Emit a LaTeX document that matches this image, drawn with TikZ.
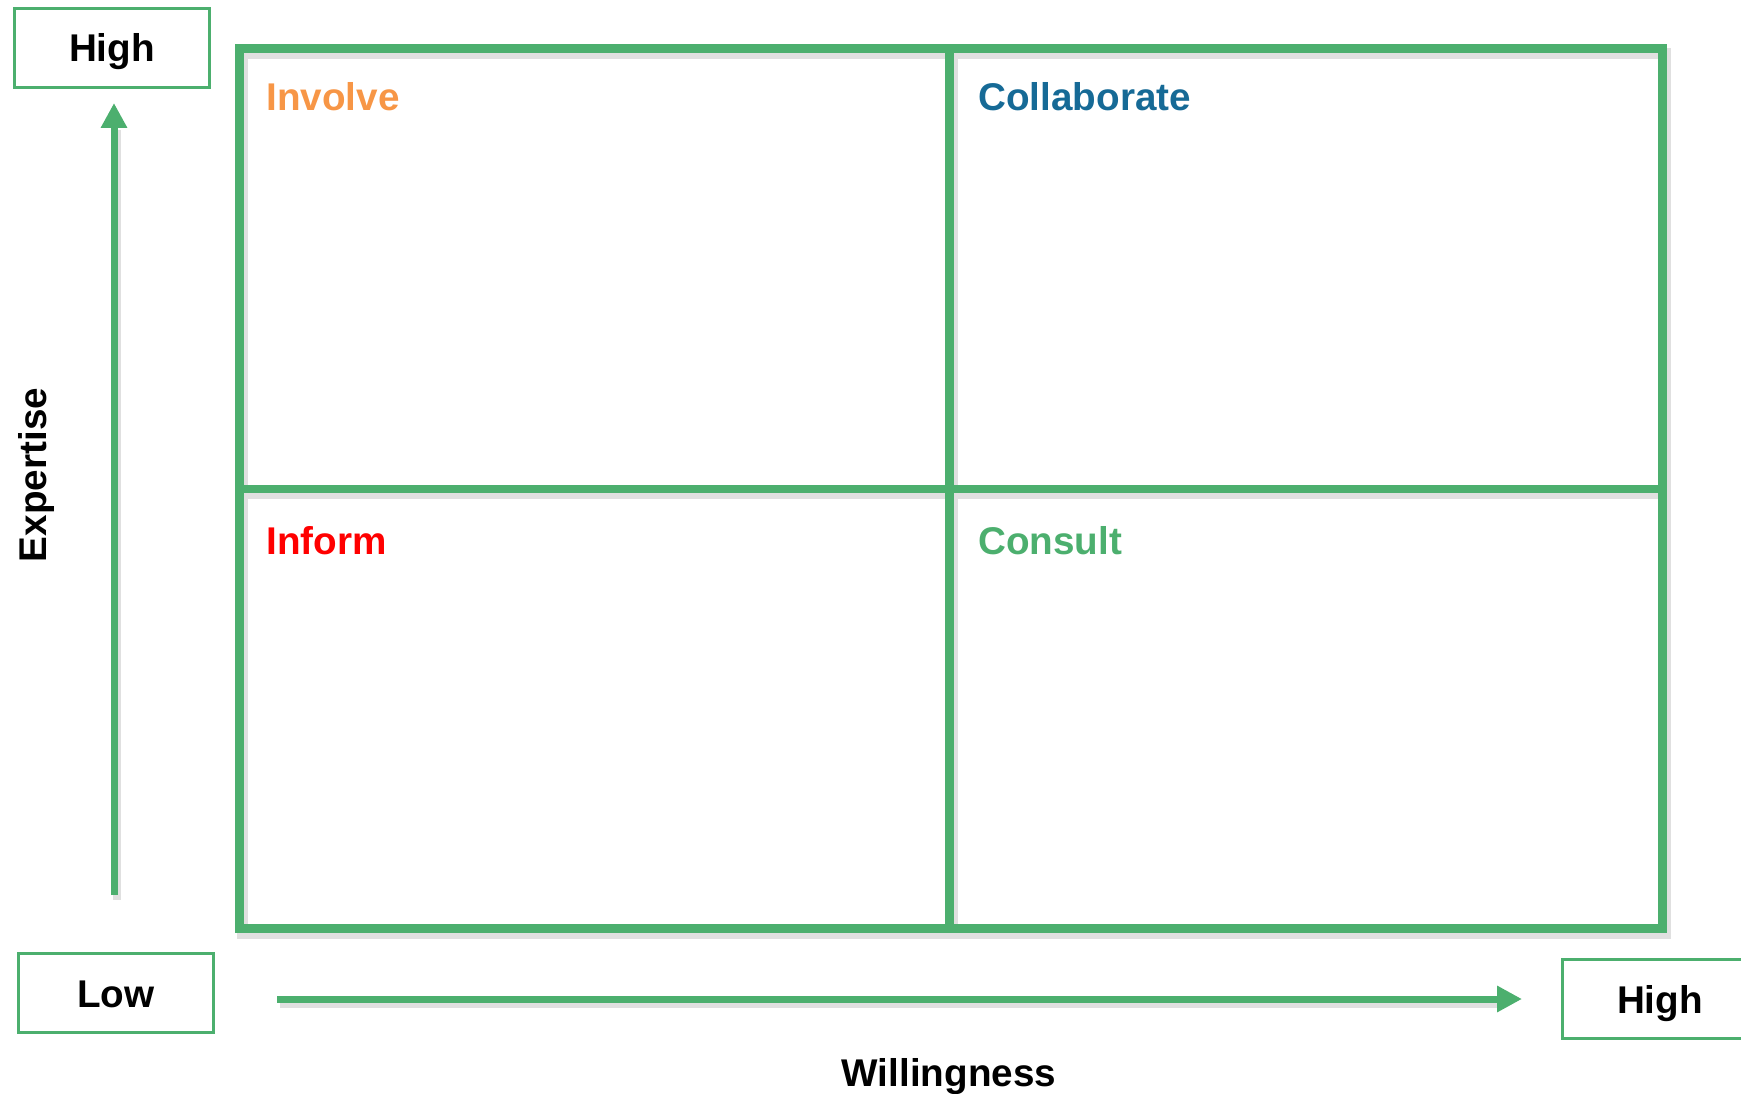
\documentclass[tikz,border=0pt]{standalone}
\usepackage{fontspec}
\setmainfont{Liberation Sans}
\usetikzlibrary{arrows.meta}
\definecolor{matgreen}{RGB}{76,175,110}
\definecolor{involvecol}{RGB}{247,150,70}
\definecolor{collabcol}{RGB}{22,106,150}
\definecolor{informcol}{RGB}{255,0,0}

\begin{document}
\begin{tikzpicture}[
        x=0.02cm, y=-0.02cm,% one unit = one pixel of the reference, y going down
        font=\fontsize{22}{26}\selectfont\bfseries,
        G/.style = {draw=matgreen, line width=0.18cm},% lines of the grid
        S/.style = {draw=black!12, line width=0.22cm, shift={(3,5)}},% shadow under the lines
        L/.style = {rectangle, draw=matgreen, line width=0.06cm,
                minimum width=3.9cm, minimum height=1.6cm,
                text height=0.56cm, text depth=0pt,
                inner sep=0pt, outer sep=0pt},% level boxes
        A/.style = {draw=matgreen, line width=0.14cm,
                -{Triangle[width=0.5cm, length=0.5cm]}},
        Q/.style = {anchor=west, inner sep=0pt, text=#1},% quadrant titles
    ]
    \useasboundingbox (0,0) rectangle (1741,1094);
    % shadows
    \draw[S] (239,49) rectangle (1662,928);
    \draw[S] (949,49) -- (949,928);
    \draw[S] (239,489) -- (1662,489);
    \draw[S, line width=0.16cm] (114,895) -- (114,125);
    \draw[S, line width=0.16cm] (277,999) -- (1500,999);
    % grid
    \draw[G] (239,49) rectangle (1662,928);
    \draw[G] (949,49) -- (949,928);
    \draw[G] (239,489) -- (1662,489);
    % level boxes
    \node[L] (yhigh) at (112,48) {High};
    \node[L] (xlow) at (116,993) {Low};
    \node[L] (xhigh) at (1660,999) {High};
    % axes
    \coordinate (ystart) at (114,895);
    \coordinate (yend) at (114,103);
    \coordinate (xstart) at (277,999);
    \coordinate (xend) at (1522,999);
    \draw[A] (ystart) -- (yend);
    \draw[A] (xstart) -- (xend);
    \node[rotate=90] (ylabel) at (37,475) {Expertise};
    \node (xlabel) at (949,1077) {Willingness};
    % quadrants
    \node[Q=involvecol] (involve) at (266,97) {Involve};
    \node[Q=collabcol] (collab) at (978,97) {Collaborate};
    \node[Q=informcol] (inform) at (266,541) {Inform};
    \node[Q=matgreen] (consult) at (978,541) {Consult};
\end{tikzpicture}
\end{document}
